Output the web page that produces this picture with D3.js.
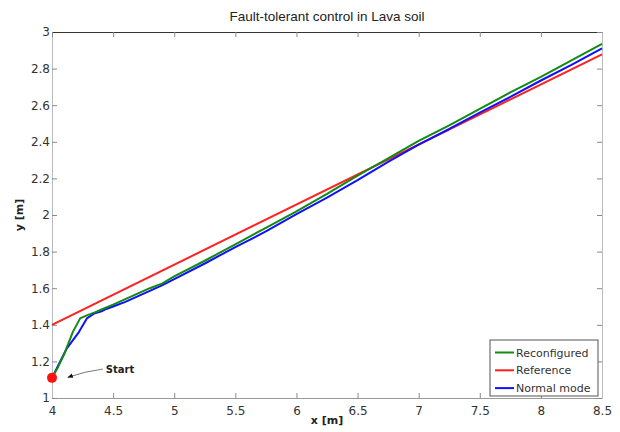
<!DOCTYPE html>
<html>
<head>
<meta charset="utf-8">
<title>Fault-tolerant control in Lava soil</title>
<script src="https://d3js.org/d3.v7.min.js"></script>
<style>
  body { margin: 0; background: #fff; }
  svg text { font-family: "DejaVu Sans", sans-serif; }
  .tick text { fill: #333; font-size: 12px; }
  .tick line { stroke: #888; }
</style>
</head>
<body>
<svg id="chart" width="620" height="432"></svg>
<script>
// ticks
const xTicks = [4, 4.5, 5, 5.5, 6, 6.5, 7, 7.5, 8, 8.5];
const yTicks = [1, 1.2, 1.4, 1.6, 1.8, 2, 2.2, 2.4, 2.6, 2.8, 3];

// series
const reconfiguredX = [4.0, 4.05, 4.1, 4.17, 4.23, 4.28, 4.35, 4.4, 4.5, 4.6, 4.7, 4.8, 4.9, 5.0, 5.25, 5.5, 5.75, 6.0, 6.25, 6.5, 6.75, 7.0, 7.25, 7.5, 7.75, 8.0, 8.25, 8.5];
const reconfiguredY = [1.11, 1.17, 1.24, 1.36, 1.435, 1.45, 1.468, 1.482, 1.51, 1.54, 1.57, 1.60, 1.625, 1.665, 1.75, 1.84, 1.93, 2.02, 2.115, 2.215, 2.31, 2.405, 2.49, 2.58, 2.67, 2.755, 2.845, 2.935];

const referenceX = [4.0, 8.5];
const referenceY = [1.4, 2.878];

const normalX = [4.0, 4.06, 4.12, 4.22, 4.285, 4.35, 4.4, 4.45, 4.5, 4.6, 4.7, 4.8, 4.9, 5.0, 5.25, 5.5, 5.75, 6.0, 6.25, 6.5, 6.75, 7.0, 7.25, 7.5, 7.75, 8.0, 8.25, 8.5];
const normalY = [1.11, 1.19, 1.27, 1.36, 1.435, 1.463, 1.472, 1.488, 1.50, 1.525, 1.555, 1.585, 1.615, 1.65, 1.735, 1.825, 1.91, 2.005, 2.095, 2.19, 2.29, 2.385, 2.47, 2.56, 2.645, 2.735, 2.82, 2.91];

const seriesNames = ['Reconfigured', 'Reference', 'Normal mode'];
const seriesColors = ['#138a13', '#ff2020', '#1010ff'];

const startPoint = [4.0, 1.11];
const startLabel = [4.44, 1.158];
const startArrowHead = [4.13, 1.113];

const svg = d3.select('#chart');
const margins = {top: 32, right: 18, bottom: 34, left: 52};
const width = +svg.attr('width');
const height = +svg.attr('height');
const chartWidth = width - margins.left - margins.right;
const chartHeight = height - margins.top - margins.bottom;

const x = d3.scaleLinear().domain([4, 8.5]).range([0, chartWidth]);
const y = d3.scaleLinear().domain([1, 3]).range([chartHeight, 0]);

const chartArea = svg.append('g')
  .attr('transform', `translate(${margins.left},${margins.top})`);

// axes, ticks pointing inward (box style)
const fmt = d => String(d);
chartArea.append('g')
  .attr('transform', `translate(0,${chartHeight})`)
  .call(d3.axisBottom(x).tickValues(xTicks).tickFormat(fmt).tickSizeInner(-5).tickSizeOuter(0).tickPadding(8))
  .call(g => g.select('.domain').attr('stroke', '#999'));

chartArea.append('g')
  .call(d3.axisLeft(y).tickValues(yTicks).tickFormat(fmt).tickSizeInner(-5).tickSizeOuter(0).tickPadding(2))
  .call(g => g.select('.domain').attr('stroke', '#bbb'));

chartArea.append('g')
  .call(d3.axisTop(x).tickValues(xTicks).tickFormat('').tickSizeInner(-5).tickSizeOuter(0))
  .call(g => g.select('.domain').attr('stroke', '#333'));

chartArea.append('g')
  .attr('transform', `translate(${chartWidth},0)`)
  .call(d3.axisRight(y).tickValues(yTicks).tickFormat('').tickSizeInner(-5).tickSizeOuter(0))
  .call(g => g.select('.domain').attr('stroke', '#bbb'));

// lines
const line = d3.line().x(d => x(d[0])).y(d => y(d[1]));
const series = [
  d3.zip(reconfiguredX, reconfiguredY),
  d3.zip(referenceX, referenceY),
  d3.zip(normalX, normalY)
];
const drawOrder = [1, 2, 0];
drawOrder.forEach(i => {
  chartArea.append('path')
    .datum(series[i])
    .attr('fill', 'none')
    .attr('stroke', seriesColors[i])
    .attr('stroke-width', 2)
    .attr('stroke-linejoin', 'round')
    .attr('d', line);
});

// start marker
chartArea.append('circle')
  .attr('cx', x(startPoint[0]))
  .attr('cy', y(startPoint[1]))
  .attr('r', 5)
  .attr('fill', '#ff1010');

svg.append('defs').append('marker')
  .attr('id', 'arrow')
  .attr('viewBox', '0 0 10 10')
  .attr('refX', 9).attr('refY', 5)
  .attr('markerWidth', 7).attr('markerHeight', 7)
  .attr('orient', 'auto')
  .append('path')
  .attr('d', 'M0,1 L10,5 L0,9 z')
  .attr('fill', '#111');

const ax0 = x(startLabel[0]) - 3, ay0 = y(startLabel[1]);
const ax1 = x(startArrowHead[0]), ay1 = y(startArrowHead[1]);
chartArea.append('path')
  .attr('d', `M${ax0},${ay0} Q${(ax0 + ax1) / 2},${(ay0 + ay1) / 2 - 2} ${ax1},${ay1}`)
  .attr('fill', 'none')
  .attr('stroke', '#555')
  .attr('stroke-width', 0.8)
  .attr('marker-end', 'url(#arrow)');

chartArea.append('text')
  .attr('x', x(startLabel[0]))
  .attr('y', y(startLabel[1]) + 4)
  .attr('font-size', 10)
  .attr('font-weight', 'bold')
  .attr('fill', '#222')
  .text('Start');

// title and axis labels
svg.append('text')
  .attr('x', margins.left + chartWidth / 2)
  .attr('y', 21)
  .attr('text-anchor', 'middle')
  .attr('font-size', 13.5)
  .attr('fill', '#222')
  .style('font-family', '"Liberation Sans", Arial, sans-serif')
  .text('Fault-tolerant control in Lava soil');

svg.append('text')
  .attr('x', margins.left + chartWidth / 2)
  .attr('y', 424)
  .attr('text-anchor', 'middle')
  .attr('font-size', 11)
  .attr('font-weight', 'bold')
  .attr('fill', '#222')
  .text('x [m]');

svg.append('text')
  .attr('transform', `translate(23,${margins.top + chartHeight / 2}) rotate(-90)`)
  .attr('text-anchor', 'middle')
  .attr('font-size', 11)
  .attr('font-weight', 'bold')
  .attr('fill', '#222')
  .text('y [m]');

// legend
const legend = chartArea.append('g')
  .attr('transform', `translate(${chartWidth - 112},${chartHeight - 58})`);
legend.append('rect')
  .attr('width', 108).attr('height', 56)
  .attr('fill', '#fff')
  .attr('stroke', '#555')
  .attr('stroke-width', 1);
seriesNames.forEach((name, i) => {
  const ly = 12.5 + i * 17.8;
  legend.append('line')
    .attr('x1', 5).attr('x2', 24)
    .attr('y1', ly).attr('y2', ly)
    .attr('stroke', seriesColors[i])
    .attr('stroke-width', 2);
  legend.append('text')
    .attr('x', 26).attr('y', ly + 4)
    .attr('font-size', 11)
    .attr('fill', '#333')
    .text(name);
});
</script>
</body>
</html>
